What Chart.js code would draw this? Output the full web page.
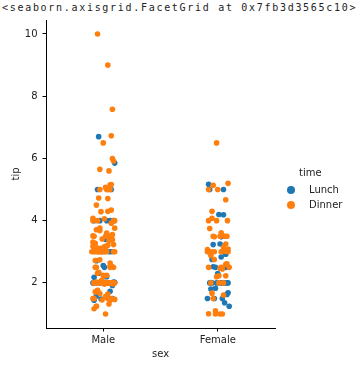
<!DOCTYPE html>
<html>
<head>
<meta charset="utf-8">
<script src="https://cdn.jsdelivr.net/npm/chart.js@4.4.1/dist/chart.umd.min.js"></script>
<style>
html,body{margin:0;padding:0;background:#fff;}
#wrap{position:relative;width:360px;height:371px;overflow:hidden;background:#fff;}
#hdr{position:absolute;left:2px;top:2px;font-family:"DejaVu Sans Mono",monospace;font-size:10px;letter-spacing:1.7px;color:#222;white-space:nowrap;line-height:normal;}
#chart{position:absolute;left:0;top:0;}
.lg{position:absolute;font-family:"DejaVu Sans",sans-serif;font-size:10px;line-height:12px;color:#222;white-space:nowrap;}
.dot{position:absolute;width:8px;height:8px;border-radius:50%;}
</style>
</head>
<body>
<div id="wrap">
  <div id="hdr">&lt;seaborn.axisgrid.FacetGrid at 0x7fb3d3565c10&gt;</div>
  <canvas id="chart" width="360" height="371"></canvas>
  <div id="legend"></div>
</div>
<script>
// ---- data ----
const categories = ['Male', 'Female'];
const hueLevels = ['Lunch', 'Dinner'];
const yTicks = [2, 4, 6, 8, 10];

const maleLunchTips = [4.0,3.0,2.71,3.0,3.4,5.0,2.03,2.0,4.0,5.85,3.0,2.31,2.5,2.0,1.48,2.18,1.5,2.0,6.7,5.0,1.73,2.0,2.56,2.02,4.0,1.44,2.0,2.0,4.0,4.0,2.2,1.92,1.58];
const maleLunchJitter = [-0.08,0.05,-0.06,-0.01,0.02,-0.05,0.09,-0.07,0.03,0.10,0.07,-0.04,0.01,0.04,-0.02,-0.08,0.08,0.09,-0.04,0.07,0.06,-0.09,0.00,0.10,0.06,-0.08,0.02,-0.03,0.09,-0.03,0.03,0.08,-0.06];

const maleDinnerTips = [1.66,3.5,3.31,4.71,2.0,3.12,1.96,3.23,1.71,1.57,
  3.0,3.92,3.71,3.35,4.08,7.58,3.18,2.34,2.0,2.0,
  4.3,1.45,2.5,3.27,3.6,2.0,2.31,5.0,2.24,2.54,
  3.06,1.32,5.6,3.0,5.0,6.0,2.05,3.0,2.5,1.56,
  4.34,3.51,3.0,1.76,6.73,3.21,2.0,1.98,3.76,2.64,
  3.15,2.01,2.09,1.97,1.25,3.08,3.0,3.5,4.73,4.0,
  1.5,3.0,1.5,1.64,4.06,4.29,3.76,3.0,4.0,2.55,
  5.07,2.5,2.0,2.74,2.0,2.0,5.0,2.0,3.5,2.5,
  2.0,3.48,2.24,4.5,10.0,3.16,5.15,3.18,4.0,3.11,
  2.0,2.0,3.55,3.68,5.65,3.5,6.5,3.0,5.0,2.0,
  4.0,1.5,3.41,3.0,2.03,2.0,5.16,9.0,3.0,1.5,
  1.44,3.0,2.72,2.0,3.0,3.39,1.47,3.0,1.25,1.0,
  1.17,5.92,2.0,1.75];
const maleDinnerJitter = [-0.03,0.06,-0.09,0.04,0.08,-0.05,0.01,0.09,-0.07,0.03,
  -0.02,0.07,-0.06,0.05,-0.09,0.08,0.02,-0.04,0.10,-0.08,
  0.04,-0.01,0.06,-0.07,0.03,0.09,-0.05,-0.03,0.00,0.07,
  -0.08,0.05,0.05,-0.04,0.06,0.08,-0.02,0.10,-0.06,0.02,
  0.07,-0.09,0.01,-0.05,0.07,0.04,-0.07,0.09,-0.03,0.06,
  -0.08,0.03,-0.01,0.08,-0.06,0.02,-0.10,0.05,-0.04,0.09,
  0.07,-0.05,-0.08,0.04,0.01,-0.02,0.10,0.03,-0.09,0.06,
  0.02,-0.07,0.05,-0.03,0.08,-0.06,0.04,0.00,-0.08,0.09,
  -0.04,0.07,0.03,-0.06,-0.05,0.01,0.06,-0.09,0.10,-0.02,
  0.05,-0.08,0.08,-0.03,-0.03,0.02,0.00,-0.07,0.03,0.07,
  -0.05,0.04,-0.01,0.09,-0.06,0.05,0.07,0.04,-0.04,-0.09,
  0.06,0.01,-0.07,0.03,-0.08,0.08,0.10,-0.02,-0.06,0.02,
  -0.08,0.09,0.04,-0.05];

const femaleLunchTips = [1.83,5.17,1.5,1.8,2.92,1.68,2.52,4.2,2.0,2.0,2.83,1.5,2.0,3.25,1.25,2.0,2.0,2.75,3.5,5.0,2.3,1.5,1.36,1.63,4.19,5.0,2.0,2.01,2.0,2.5,3.23,3.48,3.0,2.5,2.0];
const femaleLunchJitter = [-0.02,-0.08,0.04,-0.06,0.07,0.09,-0.04,0.01,-0.07,0.06,0.03,-0.09,0.08,0.02,0.10,-0.01,0.04,-0.05,0.05,-0.07,0.00,-0.03,0.06,0.08,0.05,0.05,0.09,-0.06,0.02,0.07,-0.04,0.03,-0.08,-0.02,-0.05];

const femaleDinnerTips = [1.01,3.61,5.0,3.02,1.67,3.5,2.75,2.23,3.0,3.0,
  2.45,3.07,2.6,5.2,1.5,2.47,1.0,3.0,3.14,5.0,
  2.2,1.0,4.3,3.25,2.5,3.0,2.5,3.48,4.08,4.0,
  1.0,4.0,3.5,5.14,3.75,2.61,2.0,3.0,1.61,2.0,
  4.0,3.5,3.5,2.23,2.5,6.5,1.1,3.09,2.88,4.67,
  2.0,3.0];
const femaleDinnerJitter = [-0.08,0.03,-0.08,0.06,-0.05,0.08,-0.03,0.01,0.09,-0.06,
  0.04,-0.09,0.07,0.09,-0.04,0.02,-0.02,-0.07,0.05,0.00,
  -0.01,0.02,-0.05,0.07,-0.08,0.03,0.10,-0.03,-0.05,-0.01,
  0.04,0.085,0.06,-0.04,-0.07,0.08,0.01,-0.09,0.05,-0.06,
  -0.08,0.02,-0.04,0.07,0.03,-0.01,-0.02,0.09,-0.06,0.07,
  0.05,-0.03];

// ---- styles ----
const COLORS = {Lunch: '#1f77b4', Dinner: '#ff7f0e'};
const TXT = '#222';
const FONT = {family: 'DejaVu Sans', size: 10};

function pts(catIdx, tips, jit) {
  return tips.map((t, i) => ({x: catIdx + jit[i], y: t}));
}

const lunchData = pts(0, maleLunchTips, maleLunchJitter).concat(pts(1, femaleLunchTips, femaleLunchJitter));
const dinnerData = pts(0, maleDinnerTips, maleDinnerJitter).concat(pts(1, femaleDinnerTips, femaleDinnerJitter));

function ds(label, data, order) {
  return {label, data, order, backgroundColor: COLORS[label], borderColor: COLORS[label],
    borderWidth: 0, pointRadius: 2.8, pointHoverRadius: 2.8};
}

new Chart(document.getElementById('chart'), {
  type: 'scatter',
  data: {datasets: [ds('Lunch', lunchData, 1), ds('Dinner', dinnerData, 0)]},
  options: {
    responsive: false, animation: false, events: [],
    layout: {padding: {left: 0, right: 85, top: 20, bottom: 0}},
    plugins: {legend: {display: false}, tooltip: {enabled: false}},
    scales: {
      x: {
        type: 'linear', position: 'bottom', min: -0.5, max: 1.5,
        afterBuildTicks: s => { s.ticks = categories.map((c, i) => ({value: i})); },
        afterFit: s => { s.height = 43; },
        ticks: {callback: v => categories[v] !== undefined ? categories[v] : '', font: FONT, color: TXT, padding: 3, maxRotation: 0, autoSkip: false},
        grid: {drawOnChartArea: false, drawTicks: true, tickLength: 3.5, color: '#000', lineWidth: 1},
        border: {display: true, color: '#000', width: 1},
        title: {display: true, text: 'sex', font: FONT, color: TXT, padding: {top: 0, bottom: 11}}
      },
      y: {
        type: 'linear', position: 'left', min: 0.55, max: 10.45,
        afterBuildTicks: s => { s.ticks = yTicks.map(v => ({value: v})); },
        afterFit: s => { s.width = 46; },
        ticks: {font: FONT, color: TXT, padding: 5},
        grid: {drawOnChartArea: false, drawTicks: true, tickLength: 3.5, color: '#000', lineWidth: 1},
        border: {display: true, color: '#000', width: 1},
        title: {display: true, text: 'tip', font: FONT, color: TXT, padding: {top: 10, bottom: 0}}
      }
    }
  }
});

// ---- legend (HTML text) ----
const lg = document.getElementById('legend');
function add(html, cls, css) { const d = document.createElement('div'); d.className = cls; d.style.cssText = css; d.textContent = html; lg.appendChild(d); }
add('time', 'lg', 'left:299px;top:166.5px;');
hueLevels.forEach((h, i) => {
  const cy = 189.5 + i * 15;
  add('', 'dot', `left:${291 - 4}px;top:${cy - 4}px;background:${COLORS[h]};`);
  add(h, 'lg', `left:309px;top:${cy - 6}px;`);
});
</script>
</body>
</html>
